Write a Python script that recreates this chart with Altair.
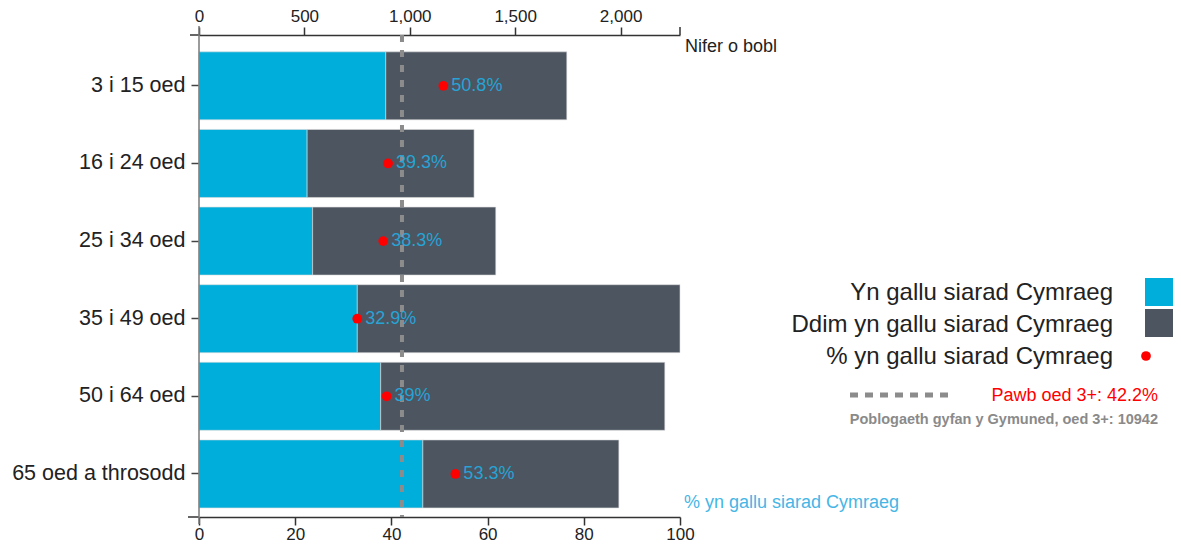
import altair as alt
import pandas as pd

# ---------------- data ----------------
groups = ["3 i 15 oed", "16 i 24 oed", "25 i 34 oed", "35 i 49 oed", "50 i 64 oed", "65 oed a throsodd"]
welsh_speakers = [886, 513, 539, 751, 862, 1062]
non_welsh_speakers = [859, 792, 869, 1531, 1348, 930]
pct_welsh = [50.8, 39.3, 38.3, 32.9, 39.0, 53.3]
overall_pct = [42.2]
total_population = 10942
count_ticks = [0, 500, 1000, 1500, 2000]
pct_ticks = [0, 20, 40, 60, 80, 100]
series_names = ["Yn gallu siarad Cymraeg", "Ddim yn gallu siarad Cymraeg"]
dot_name = "% yn gallu siarad Cymraeg"
count_title = "Nifer o bobl"
pct_title = "% yn gallu siarad Cymraeg"
overall_label = "Pawb oed 3+: " + str(overall_pct[0]) + "%"
population_label = "Poblogaeth gyfan y Gymuned, oed 3+: " + str(total_population)

# ---------------- styles ----------------
FONT = "Liberation Sans"
CYAN = "#00AEDB"
SLATE = "#4D5560"
RED = "#FF0000"
BLUE_TXT = "#27A3D6"
LIGHT_BLUE = "#45B6E6"
DASH_GREY = "#8c8c8c"
TXT = "#222222"

rows = []
for g, a, b in zip(groups, welsh_speakers, non_welsh_speakers):
    rows.append({"group": g, "series": series_names[0], "value": a, "order": 0})
    rows.append({"group": g, "series": series_names[1], "value": b, "order": 1})
bars_df = pd.DataFrame(rows)
pct_df = pd.DataFrame({"group": groups, "pct": pct_welsh})
max_total = max(a + b for a, b in zip(welsh_speakers, non_welsh_speakers))

yscale = alt.Scale(domain=groups, paddingInner=0.124, paddingOuter=0.167, align=0.65)
pct_scale = alt.Scale(domain=[0, 100], nice=False)

bars = alt.Chart(bars_df).mark_bar(stroke="#dcdcdc", strokeWidth=0.6).encode(
    y=alt.Y("group:N", scale=yscale, sort=groups,
            axis=alt.Axis(title=None, labelFont=FONT, labelFontSize=21.5, labelColor=TXT,
                          tickColor="#444", tickSize=8, tickWidth=1.5, labelPadding=6, domain=False)),
    x=alt.X("value:Q", stack="zero",
            scale=alt.Scale(domain=[0, max_total], nice=False, zero=True),
            axis=alt.Axis(orient="top", values=count_ticks, format=",.0f", title=None,
                          labelFont=FONT, labelFontSize=17, labelColor=TXT,
                          tickSize=8, tickColor="#333", tickWidth=1.5, domainColor="#333",
                          domainWidth=1.5, labelPadding=2, grid=False, labelFlush=False)),
    color=alt.Color("series:N", scale=alt.Scale(domain=series_names, range=[CYAN, SLATE]), legend=None),
    order=alt.Order("order:Q"),
)

avg_line = alt.Chart(pd.DataFrame({"pct": overall_pct})).mark_rule(
    strokeDash=[7, 8], strokeWidth=4, color=DASH_GREY
).encode(x=alt.X("pct:Q", scale=pct_scale, axis=None))

dots = alt.Chart(pct_df).mark_circle(size=95, color=RED, opacity=1).encode(
    y=alt.Y("group:N", scale=yscale, sort=groups),
    x=alt.X("pct:Q", scale=pct_scale,
            axis=alt.Axis(orient="bottom", values=pct_ticks, title=None,
                          labelFont=FONT, labelFontSize=17, labelColor=TXT,
                          tickSize=8, tickColor="#333", tickWidth=1.5, domainColor="#333",
                          domainWidth=1.5, labelPadding=1, grid=False, labelFlush=False)),
)

pct_labels = alt.Chart(pct_df).transform_calculate(
    lbl="datum.pct + '%'"
).mark_text(align="left", baseline="middle", dx=8, fontSize=18, font=FONT, color=BLUE_TXT).encode(
    y=alt.Y("group:N", scale=yscale, sort=groups),
    x=alt.X("pct:Q", scale=pct_scale, axis=None),
    text="lbl:N",
)

one = pd.DataFrame({"k": [0]})

# axis decorations (extensions of axis lines as in the reference)
deco = [
    alt.Chart(one).mark_rule(color="#333", strokeWidth=1.5).encode(
        x=alt.value(-9), x2=alt.value(0), y=alt.value(0)),
    alt.Chart(one).mark_rule(color="#333", strokeWidth=1.5).encode(
        x=alt.value(-11), x2=alt.value(0), y=alt.value(482)),
    alt.Chart(one).mark_rule(color="#333", strokeWidth=1.5).encode(
        x=alt.value(481), y=alt.value(-8), y2=alt.value(0)),
    alt.Chart(one).mark_rule(color="#7a7a7a", strokeWidth=1.5).encode(
        x=alt.value(0), y=alt.value(-9), y2=alt.value(489)),
]

# titles
titles = [
    alt.Chart(pd.DataFrame({"t": [count_title]})).mark_text(
        align="left", baseline="middle", fontSize=18, font=FONT, color=TXT
    ).encode(x=alt.value(486), y=alt.value(12), text="t:N"),
    alt.Chart(pd.DataFrame({"t": [pct_title]})).mark_text(
        align="left", baseline="middle", fontSize=18, font=FONT, color=LIGHT_BLUE
    ).encode(x=alt.value(485), y=alt.value(468), text="t:N"),
]

# custom legend on the right
legend_layers = []
legend_texts = series_names + [dot_name]
for i, name in enumerate(legend_texts):
    legend_layers.append(
        alt.Chart(pd.DataFrame({"t": [name]})).mark_text(
            align="right", baseline="middle", fontSize=24, font=FONT, color=TXT
        ).encode(x=alt.value(914), y=alt.value(258 + 32 * i), text="t:N")
    )
for i, col in enumerate([CYAN, SLATE]):
    legend_layers.append(
        alt.Chart(one).mark_square(size=784, color=col, opacity=1).encode(
            x=alt.value(960), y=alt.value(257 + 31 * i))
    )
legend_layers.append(
    alt.Chart(one).mark_circle(size=95, color=RED, opacity=1).encode(
        x=alt.value(947), y=alt.value(321))
)
legend_layers.append(
    alt.Chart(one).mark_rule(strokeDash=[8, 7], strokeWidth=5, color=DASH_GREY).encode(
        x=alt.value(651), x2=alt.value(753), y=alt.value(360))
)
legend_layers.append(
    alt.Chart(pd.DataFrame({"t": [overall_label]})).mark_text(
        align="right", baseline="middle", fontSize=18, font=FONT, color=RED
    ).encode(x=alt.value(959), y=alt.value(361), text="t:N")
)
legend_layers.append(
    alt.Chart(pd.DataFrame({"t": [population_label]})).mark_text(
        align="right", baseline="middle", fontSize=14.5, font=FONT, fontWeight="bold", color="#8a8a8a"
    ).encode(x=alt.value(959), y=alt.value(385), text="t:N")
)

chart = alt.layer(
    bars, avg_line, dots, pct_labels, *deco, *titles, *legend_layers
).resolve_scale(x="independent").resolve_axis(x="independent").properties(
    width=481,
    height=482,
    autosize=alt.AutoSizeParams(type="none"),
    padding={"left": 191, "top": 27, "right": 493, "bottom": 27},
    view=alt.ViewBackground(stroke="transparent", strokeWidth=0),
).configure_view(stroke="transparent", strokeWidth=0).configure(background="white")

chart.save("out.html", embed_options={"renderer": "svg", "actions": False})
